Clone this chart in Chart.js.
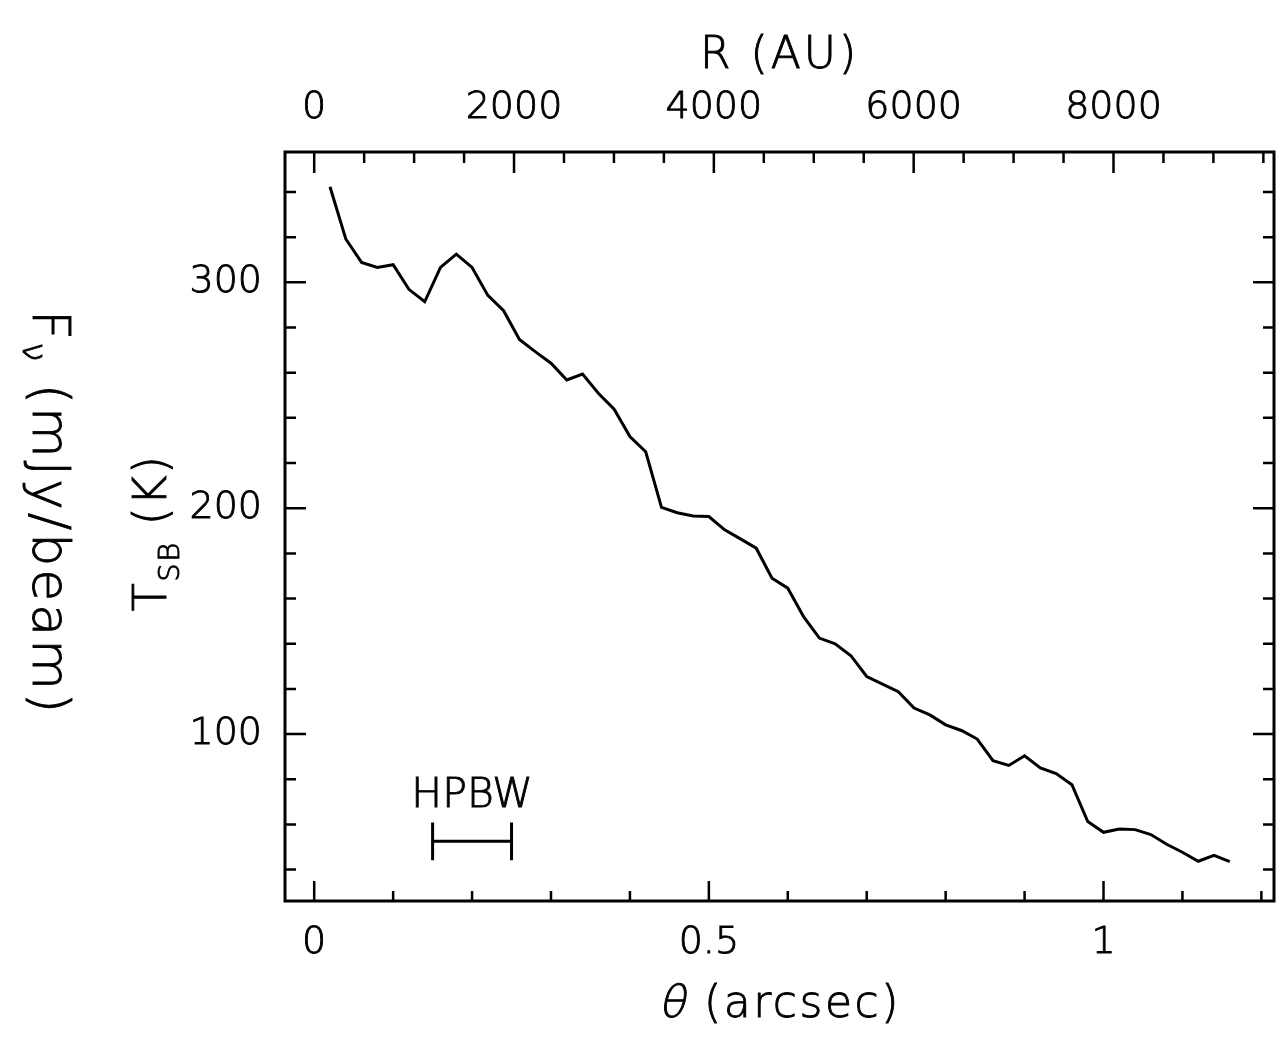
<!DOCTYPE html>
<html>
<head>
<meta charset="utf-8">
<title>Brightness profile</title>
<script src="https://cdn.jsdelivr.net/npm/chart.js@4.4.1/dist/chart.umd.min.js"></script>
<style>
  html, body { margin: 0; padding: 0; background: #fff; }
  #wrap { width: 1279px; height: 1038px; }
</style>
</head>
<body>
<div id="wrap"><canvas id="profile" width="1279" height="1038"></canvas></div>
<script>
// azimuthally averaged profile, one sample every 0.02 arcsec
const theta = [0.02, 0.04, 0.06, 0.08, 0.10, 0.12, 0.14, 0.16, 0.18, 0.20,
               0.22, 0.24, 0.26, 0.28, 0.30, 0.32, 0.34, 0.36, 0.38, 0.40,
               0.42, 0.44, 0.46, 0.48, 0.50, 0.52, 0.54, 0.56, 0.58, 0.60,
               0.62, 0.64, 0.66, 0.68, 0.70, 0.72, 0.74, 0.76, 0.78, 0.80,
               0.82, 0.84, 0.86, 0.88, 0.90, 0.92, 0.94, 0.96, 0.98, 1.00,
               1.02, 1.04, 1.06, 1.08, 1.10, 1.12, 1.14, 1.16];
const tsb = [342.3, 319.2, 308.8, 306.6, 307.8, 296.9, 291.4, 306.6, 312.5, 306.6,
             294.2, 287.4, 274.7, 269.3, 264.2, 256.8, 259.4, 250.9, 243.8, 231.7,
             225.0, 200.4, 198.0, 196.6, 196.3, 190.4, 186.4, 182.3, 169.0, 164.6,
             152.0, 142.5, 140.0, 134.7, 125.5, 122.1, 118.8, 111.5, 108.5, 104.1,
             101.6, 97.8, 88.2, 86.1, 90.4, 85.0, 82.5, 77.6, 61.3, 56.5,
             58.0, 57.7, 55.5, 51.2, 47.7, 43.7, 46.3, 43.5];

// axis limits and labelled ticks
const xRange = [-0.037, 1.216];
const yRange = [26.1, 357.7];
const auPerArcsec = 7900;
const thetaTicks = [0, 0.5, 1];
const auTicks = [0, 2000, 4000, 6000, 8000];
const tsbTicks = [100, 200, 300];

// beam size bar
const hpbwStart = 0.15;
const hpbwWidth = 0.1;
const hpbwLevel = 52.5;
const hpbwCap = 8.4;

const FONT = 'DejaVu Sans';
const WEIGHT = 200;
const STROKE = 0.9; // thickens the extra-light face a little

function steps(from, to, step) {
  const out = [];
  for (let v = from; v <= to + step / 1000; v += step) out.push(+v.toFixed(4));
  return out;
}
const thetaMinor = steps(0, 1.2, 0.1);
const auMinor = steps(0, 9500, 500);
const tsbMinor = steps(40, 340, 20);

const profilePoints = theta.map((t, i) => ({ x: t, y: tsb[i] }));
const beamPoints = [
  { x: hpbwStart, y: hpbwLevel + hpbwCap },
  { x: hpbwStart, y: hpbwLevel - hpbwCap },
  { x: hpbwStart, y: hpbwLevel },
  { x: hpbwStart + hpbwWidth, y: hpbwLevel },
  { x: hpbwStart + hpbwWidth, y: hpbwLevel + hpbwCap },
  { x: hpbwStart + hpbwWidth, y: hpbwLevel - hpbwCap }
];

function isMajor(v, list) {
  return list.some(m => Math.abs(m - v) < 1e-6);
}

// frame plus inward ticks on all four sides
const frameTicks = {
  id: 'frameTicks',
  afterDatasetsDraw(chart) {
    const { ctx, chartArea: a, scales } = chart;
    ctx.save();
    ctx.strokeStyle = '#000';
    ctx.lineWidth = 2.5;
    ctx.beginPath();
    thetaMinor.forEach(v => {
      const px = scales.x.getPixelForValue(v);
      const len = isMajor(v, thetaTicks) ? 20 : 10;
      ctx.moveTo(px, a.bottom); ctx.lineTo(px, a.bottom - len);
    });
    auMinor.forEach(v => {
      const px = scales.x2.getPixelForValue(v);
      const len = isMajor(v, auTicks) ? 21 : 11;
      ctx.moveTo(px, a.top); ctx.lineTo(px, a.top + len);
    });
    tsbMinor.forEach(v => {
      const py = scales.y.getPixelForValue(v);
      const len = isMajor(v, tsbTicks) ? 21 : 11;
      ctx.moveTo(a.left, py); ctx.lineTo(a.left + len, py);
      ctx.moveTo(a.right, py); ctx.lineTo(a.right - len, py);
    });
    ctx.stroke();
    ctx.lineWidth = 3;
    ctx.strokeRect(a.left, a.top, a.right - a.left, a.bottom - a.top);
    ctx.restore();
  }
};

function drawParts(ctx, parts, x, y, angle, spacing) {
  ctx.save();
  ctx.translate(x, y);
  ctx.rotate(angle);
  ctx.textBaseline = 'alphabetic';
  ctx.textAlign = 'left';
  ctx.letterSpacing = (spacing || 0) + 'px';
  ctx.lineWidth = STROKE;
  ctx.strokeStyle = '#000';
  let total = 0;
  parts.forEach(p => { ctx.font = p.font; p.w = ctx.measureText(p.text).width; total += p.w; });
  let cx = -total / 2;
  parts.forEach(p => {
    ctx.font = p.font;
    ctx.save();
    ctx.translate(cx, p.dy || 0);
    if (p.skew) ctx.transform(1, 0, -p.skew, 1, 0, 0);
    ctx.fillText(p.text, 0, 0);
    ctx.strokeText(p.text, 0, 0);
    ctx.restore();
    cx += p.w;
  });
  ctx.restore();
}

const f = size => `${WEIGHT} ${size}px "${FONT}"`;

// axis titles and the beam label
const labels = {
  id: 'labels',
  afterDraw(chart) {
    const { ctx, chartArea: a, scales } = chart;
    const mid = (a.left + a.right) / 2;
    ctx.fillStyle = '#000';
    drawParts(ctx, [{ text: 'R (AU)', font: f(44) }], mid, 68, 0, 3);
    drawParts(ctx, [
      { text: 'θ', font: f(44), skew: 0.22 },
      { text: ' (arcsec)', font: f(44) }
    ], mid, 1017, 0, 2.5);
    drawParts(ctx, [
      { text: 'T', font: f(46) },
      { text: 'SB', font: f(29), dy: 13 },
      { text: ' (K)', font: f(46) }
    ], 166, 533, -Math.PI / 2, 1.5);
    drawParts(ctx, [
      { text: 'F', font: f(52) },
      { text: 'ν', font: f(33), dy: 10 },
      { text: ' (mJy/beam)', font: f(52) }
    ], 33, 513, Math.PI / 2, 3);
    const bx = scales.x.getPixelForValue(hpbwStart + hpbwWidth / 2);
    const by = scales.y.getPixelForValue(hpbwLevel) - 34;
    drawParts(ctx, [{ text: 'HPBW', font: f(41) }], bx, by, 0, 0);
  }
};

const tickFont = { family: FONT, size: 38, weight: WEIGHT };
const tickStyle = { font: tickFont, color: '#000', textStrokeColor: '#000', textStrokeWidth: STROKE, maxRotation: 0 };
const hidden = { display: false, drawTicks: false };

new Chart(document.getElementById('profile'), {
  type: 'line',
  data: {
    datasets: [
      { data: profilePoints, borderColor: '#000', borderWidth: 3, pointRadius: 0, tension: 0, fill: false },
      { data: beamPoints, borderColor: '#000', borderWidth: 3, pointRadius: 0, tension: 0, fill: false }
    ]
  },
  options: {
    responsive: false,
    animation: false,
    devicePixelRatio: 1,
    layout: { padding: 0 },
    plugins: { legend: { display: false }, tooltip: { enabled: false } },
    scales: {
      x: {
        type: 'linear', position: 'bottom', min: xRange[0], max: xRange[1],
        grid: hidden, border: { display: false },
        ticks: { ...tickStyle, padding: 19, callback: v => String(v) },
        afterBuildTicks: s => { s.ticks = thetaTicks.map(v => ({ value: v })); },
        afterFit: s => { s.height = 137; }
      },
      x2: {
        type: 'linear', position: 'top',
        min: xRange[0] * auPerArcsec, max: xRange[1] * auPerArcsec,
        grid: hidden, border: { display: false },
        ticks: { ...tickStyle, padding: 21, callback: v => String(v) },
        afterBuildTicks: s => { s.ticks = auTicks.map(v => ({ value: v })); },
        afterFit: s => { s.height = 152; }
      },
      y: {
        type: 'linear', position: 'left', min: yRange[0], max: yRange[1],
        grid: hidden, border: { display: false },
        ticks: { ...tickStyle, padding: 23, callback: v => String(v) },
        afterBuildTicks: s => { s.ticks = tsbTicks.map(v => ({ value: v })); },
        afterFit: s => { s.width = 285; }
      },
      y2: {
        type: 'linear', position: 'right', min: yRange[0], max: yRange[1],
        grid: hidden, border: { display: false },
        ticks: { display: false },
        afterFit: s => { s.width = 5; }
      }
    }
  },
  plugins: [frameTicks, labels]
});
</script>
</body>
</html>
